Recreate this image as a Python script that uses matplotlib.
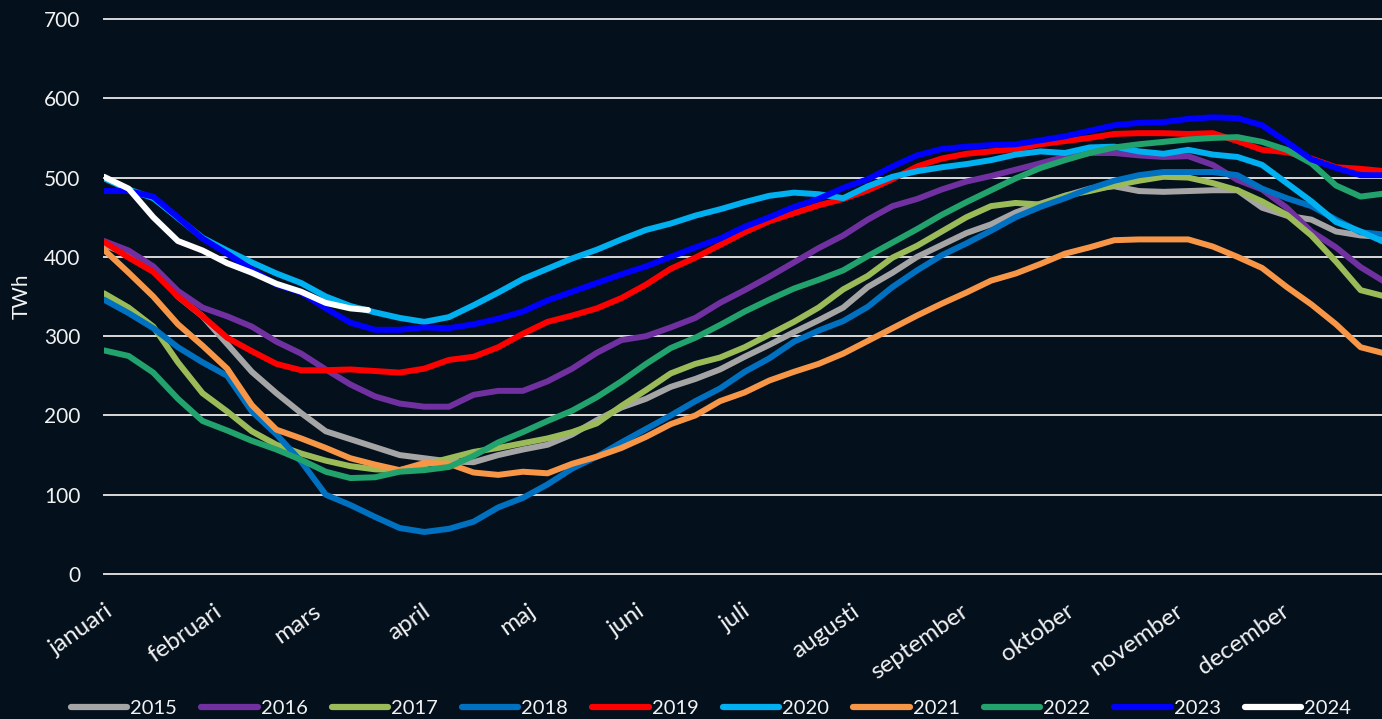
import matplotlib
matplotlib.use('Agg')
import matplotlib.pyplot as plt
from matplotlib.transforms import ScaledTranslation

# ---------------- data ----------------
days = list(range(0, 365, 7))
days_2024 = [0, 7, 14, 21, 28, 35, 42, 49, 56, 63, 70, 75]

month_starts = [0, 31, 59, 90, 120, 151, 181, 212, 243, 273, 304, 334]
month_labels = ['januari', 'februari', 'mars', 'april', 'maj', 'juni', 'juli',
                'augusti', 'september', 'oktober', 'november', 'december']

y2015 = [415, 403, 385, 350, 325, 290, 255, 228, 203, 180, 170, 160, 150, 146, 142, 141, 150, 157, 163, 176,
         194, 210, 221, 236, 246, 258, 274, 289, 305, 320, 336, 362, 380, 400, 415, 430, 441, 456, 467, 477,
         486, 489, 483, 482, 483, 484, 484, 462, 452, 447, 432, 427, 425]
y2016 = [420, 408, 388, 357, 336, 325, 312, 293, 278, 258, 239, 224, 215, 211, 211, 226, 231, 231, 243, 259,
         279, 295, 300, 311, 323, 342, 358, 375, 393, 411, 427, 447, 464, 473, 485, 495, 502, 510, 518, 526,
         531, 531, 528, 526, 527, 516, 497, 485, 462, 432, 412, 387, 368]
y2017 = [354, 336, 312, 267, 228, 205, 180, 163, 152, 143, 136, 132, 131, 138, 146, 154, 159, 165, 171, 179,
         190, 212, 232, 253, 265, 273, 286, 302, 318, 336, 359, 376, 399, 414, 432, 450, 464, 468, 466, 477,
         483, 490, 496, 501, 500, 493, 484, 470, 453, 427, 394, 358, 350]
y2018 = [346, 329, 310, 286, 267, 250, 205, 176, 142, 100, 87, 72, 58, 53, 57, 66, 84, 96, 113, 133,
         148, 166, 183, 200, 218, 234, 255, 272, 293, 307, 319, 337, 362, 383, 402, 417, 433, 450, 463, 474,
         486, 496, 503, 507, 507, 507, 503, 486, 474, 464, 447, 431, 428]
y2019 = [419, 399, 381, 350, 325, 298, 281, 265, 257, 257, 258, 256, 254, 259, 270, 274, 286, 303, 318, 326,
         335, 348, 365, 385, 399, 415, 431, 445, 455, 465, 473, 484, 498, 514, 524, 530, 533, 536, 542, 546,
         550, 555, 556, 556, 555, 556, 546, 535, 532, 524, 513, 511, 508]
y2020 = [499, 485, 474, 449, 424, 408, 393, 379, 367, 350, 338, 330, 323, 318, 324, 339, 355, 372, 385, 398,
         409, 422, 434, 442, 452, 460, 469, 477, 481, 479, 474, 489, 501, 508, 513, 517, 522, 529, 533, 531,
         538, 539, 533, 530, 535, 529, 526, 516, 493, 470, 444, 432, 418]
y2021 = [409, 380, 350, 315, 288, 259, 213, 182, 171, 159, 146, 138, 131, 140, 139, 128, 125, 129, 127, 139,
         148, 159, 173, 189, 200, 218, 229, 244, 255, 265, 278, 294, 310, 326, 341, 355, 370, 379, 391, 404,
         412, 421, 422, 422, 422, 413, 400, 386, 362, 340, 315, 286, 278]
y2022 = [282, 275, 254, 221, 193, 181, 168, 157, 144, 129, 121, 122, 129, 131, 135, 149, 166, 179, 193, 206,
         223, 243, 265, 285, 298, 314, 331, 346, 360, 371, 383, 401, 418, 435, 453, 469, 484, 499, 512, 522,
         531, 538, 542, 545, 548, 550, 551, 545, 535, 518, 490, 476, 480]
y2023 = [483, 483, 476, 450, 423, 404, 384, 365, 355, 335, 317, 308, 308, 311, 310, 315, 322, 331, 345, 356,
         367, 378, 388, 400, 412, 423, 438, 450, 463, 473, 487, 498, 514, 528, 536, 539, 541, 542, 547, 552,
         559, 566, 569, 570, 574, 576, 575, 566, 545, 523, 512, 503, 503]
y2024 = [501, 486, 450, 420, 408, 392, 380, 366, 356, 342, 335, 333]

years = ['2015', '2016', '2017', '2018', '2019', '2020', '2021', '2022', '2023', '2024']
series = [y2015, y2016, y2017, y2018, y2019, y2020, y2021, y2022, y2023, y2024]
colors = ['#a5a5a5', '#7030a0', '#9bbb59', '#0070c0', '#ff0000',
          '#00b0f0', '#f79646', '#22a36d', '#0000ff', '#ffffff']

# ---------------- style ----------------
bg = '#04101c'
txt = '#f2f2f2'
plt.rcParams['font.family'] = ['Lato', 'DejaVu Sans']

W, H = 1382, 719
fig = plt.figure(figsize=(W / 100, H / 100), dpi=100, facecolor=bg)
ax = fig.add_axes([104 / W, 1 - 574 / H, 1 - 104 / W, (574 - 19) / H])
ax.set_facecolor(bg)

handles = []
for yr, vals, c in zip(years, series, colors):
    xs = days_2024 if yr == '2024' else days
    ln, = ax.plot(xs, vals, color=c, lw=4.3, solid_capstyle='round',
                  solid_joinstyle='round', label=yr, zorder=3)
    handles.append(ln)

ax.set_xlim(0, (W - 104) / 3.52)
ax.set_ylim(0, 700)
ax.set_yticks(range(0, 701, 100))
ax.grid(axis='y', color='#d9d9d9', lw=1.4, zorder=1)
ax.grid(axis='x', visible=False)
for gl in ax.get_ygridlines():
    gl.set_clip_on(False)
for s in ax.spines.values():
    s.set_visible(False)

ax.tick_params(axis='y', length=0, pad=17, labelsize=15, labelcolor=txt)
ax.set_xticks(month_starts)
ax.set_xticklabels(month_labels, rotation=35, ha='right', va='top', rotation_mode='anchor')
ax.tick_params(axis='x', length=0, pad=19, labelsize=17.5, labelcolor=txt)
shift = ScaledTranslation(1 / 100, 0, fig.dpi_scale_trans)
for lab in ax.get_xticklabels():
    lab.set_transform(lab.get_transform() + shift)

ax.set_ylabel('TWh', color=txt, fontsize=15, labelpad=9)

leg = fig.legend(handles, years, loc='center', bbox_to_anchor=(711 / W, 1 - 708 / H),
                 ncol=10, frameon=False, fontsize=14.5, handlelength=2.8,
                 handletextpad=0.15, columnspacing=1.2, labelcolor=txt)
for lh in leg.get_lines():
    lh.set_linewidth(4.5)
    lh.set_solid_capstyle('round')

fig.savefig('out.png', dpi=100, facecolor=bg)
